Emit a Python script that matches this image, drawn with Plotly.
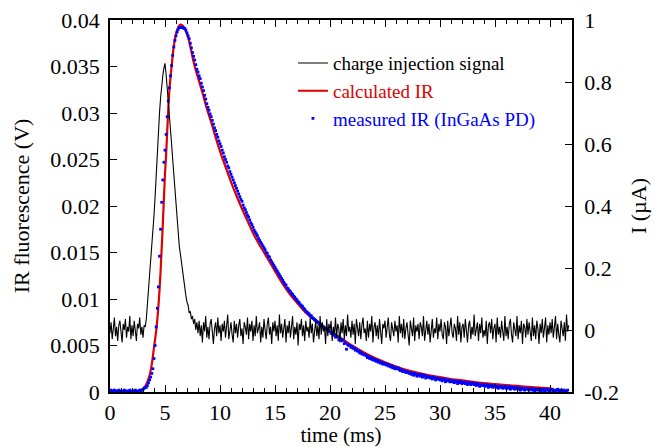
import numpy as np
import plotly.graph_objects as go

# ---------------- data ----------------
# charge injection signal (nA), sampled every 0.1 ms from t = 0
charge_dt = 0.1
charge_nA = [
    -10, 25, -30, 5, 40, -20, 10, -35, 15, 30, -15, -40, 20, 0, 35, -25, 10, -5, 45, -30,
    15, -20, 30, -10, -35, 20, 5, 40, -15, 10, -25, 15,
    10, 35, 80, 125, 175, 210, 265, 305, 370, 430, 505, 560, 635, 700, 750, 795, 820, 845,
    860, 825, 785, 735, 685, 640, 600, 550, 500, 445, 395, 350, 315, 270, 245, 215, 190,
    160, 130, 110, 90, 80, 55, 60, 35, 45, 20, 35, 0, 25, -10,
    30, -20, 15, -40, 25, -5, 45, -25, 10, -30, 20, 35, -15, -45, 5, 25, -20, 40, -10, 15,
    -35, 20, -5, 30, -25, 10, 50, -30, 0, 25, -15, -40, 30, -10, 20, -25, 15, 35, -20, 5,
    -45, 25, 10, -15, 40, -30, 20, -5, 30, -35, 15, -20, 45, -10, 5, 25, -40, 10, -25, 35,
    0, -30, 20, 40, -15, 10, -45, 25, -5, 30, -20, 15, -35, 50, -10, 20, -25, 5, 35, -40,
    15, -10, 30, -25, 5, 45, -30, 10, -15, 25, -50, 20, 0, 35, -20, 15, -35, 30, -5, 10,
    -25, 40, -10, 20, -40, 5, 30, -20, 15, -30, 45, -15, 25, -5, 10, -45, 35, -20, 20, 0,
    30, -35, 10, -15, 40, -25, 20, 5, -40, 25, -10, 35, -30, 15, -20, 50, -5, 10, -25, 30,
    -15, 20, -45, 35, 0, -20, 25, -30, 15, 40, -10, 5, -35, 30, -25, 20, -5, 45, -40, 10,
    25, -20, 15, -30, 35, -10, -45, 20, 5, 30, -25, 10, 40, -15, -35, 25, 0, -20, 30, -5,
    15, -40, 45, -10, 20, -25, 35, -30, 5, 25, -15, -50, 30, 10, -20, 40, -35, 15, -5, 20,
    -30, 25, 10, -20, 45, -35, 0, 30, -15, 20, -40, 15, 35, -25, 5, -10, 40, -30, 20, -5,
    35, -15, -30, 25, 10, -45, 30, -20, 15, 40, -10, -25, 20, 5, -35, 45, -15, 25, -40, 10,
    20, -25, 35, -5, -40, 15, 30, -30, 10, -15, 50, -20, 5, 25, -35, 20, -10, 40, -25, 0,
    -20, 30, -45, 15, 25, -10, 35, -30, 5, 20, -40, 40, -15, 10, -25, 30, -5, -35, 45, -20,
    10, -30, 20, 35, -15, -40, 25, 0, -20, 45, -30, 15, -10, 30, -45, 20, 10, -25, 35, -15,
    25, -5, -35, 40, -20, 15, -30, 30, 5, -45, 20, -10, 35, -25, 10, 40, -40, 15, -15, 25,
    -10, 35, -25, 5, 45, -30, 20, -15, -40, 30, 10, -20, 25, -35, 50, -5, 15,
]

# calculated IR (mV)
calc_t = [2.7, 2.8, 3.0, 3.2, 3.4, 3.6, 3.8, 4.0, 4.2, 4.4, 4.6, 4.8, 5.0, 5.1, 5.2, 5.3,
          5.4, 5.5, 5.6, 5.7, 5.8, 6.0, 6.2, 6.4, 6.6, 6.8, 7.0, 7.2, 7.4, 7.6, 7.8, 8.0,
          8.4, 8.8, 9.2, 9.6, 10.0, 10.5, 11.0, 11.5, 12.0, 12.5, 13.0, 13.5, 14.0, 14.5,
          15.0, 15.5, 16.0, 16.5, 17.0, 17.5, 18.0, 18.5, 19.0, 19.5, 20.0, 21, 22, 23, 24,
          25, 26, 27, 28, 29, 30, 31, 32, 33, 34, 35, 36, 37, 38, 39, 40]
calc_mV = [0.0, 0.1, 0.3, 0.6, 1.1, 1.8, 3.0, 4.8, 6.6, 9.2, 13.0, 18.0, 23.5, 25.5, 28.0,
           30.5, 32.5, 33.8, 35.0, 36.2, 37.2, 38.5, 39.2, 39.5, 39.4, 39.1, 38.5, 37.7,
           36.6, 35.5, 34.6, 33.8, 32.2, 30.5, 29.0, 27.4, 25.9, 24.2, 22.6, 21.1, 19.7,
           18.4, 17.1, 16.0, 15.0, 14.0, 13.0, 12.0, 11.1, 10.3, 9.6, 8.9, 8.3, 7.8, 7.3,
           6.9, 6.5, 5.8, 5.0, 4.3, 3.7, 3.2, 2.75, 2.35, 2.05, 1.8, 1.6, 1.4, 1.25, 1.1,
           0.95, 0.85, 0.75, 0.65, 0.55, 0.47, 0.4]

# measured IR, InGaAs PD (mV), sampled every 0.1 ms from t = 0
meas_dt = 0.1
meas_mV = [
    0.1, 0.2, 0.1, 0.0, 0.2, 0.1, 0.1, 0.0, 0.2, 0.1, 0.1, 0.0, 0.1, 0.2, 0.1,
    0.1, 0.0, 0.1, 0.2, 0.1, 0.0, 0.1, 0.1, 0.2, 0.0, 0.1, 0.1, 0.2, 0.1, 0.2,
    0.3, 0.4, 0.5, 0.5, 0.7, 1.0, 1.3, 1.6, 2.0, 2.5,
    3.6, 5.0, 7.0, 9.0, 11.3, 14.6, 17.5, 20.4, 22.8, 24.7,
    26.0, 27.7, 29.6, 31.3, 32.7, 34.0, 35.1, 36.2, 37.1, 37.8,
    38.3, 38.7, 39.0, 39.2, 39.2, 39.2, 39.2, 39.1, 39.1, 38.9,
    38.6, 38.3, 38.0, 37.5, 37.0, 36.5, 36.1, 35.7, 35.2, 34.7,
    34.4, 34.0, 33.7, 33.2, 32.8, 32.4, 31.9, 31.5, 31.0, 30.6,
    30.3, 29.9, 29.6, 29.2, 28.8, 28.4, 28.1, 27.7, 27.4, 27.0,
    26.7, 26.4, 26.0, 25.7, 25.3, 25.0, 24.7, 24.3, 24.1, 23.7, 23.4,
    23.1, 22.8, 22.5, 22.2, 21.9, 21.6, 21.3, 21.0, 20.7, 20.5,
    20.1, 19.8, 19.6, 19.3, 19.0, 18.8, 18.5, 18.2, 18.0, 17.7,
    17.4, 17.2, 17.0, 16.8, 16.5, 16.3, 16.1, 15.9, 15.7, 15.5,
    15.3, 15.0, 14.9, 14.6, 14.5, 14.2, 14.0, 13.8, 13.6, 13.4,
    13.2, 13.0, 12.8, 12.6, 12.4, 12.2, 12.0, 11.8, 11.6, 11.5,
    11.2, 11.1, 10.9, 10.8, 10.6, 10.5, 10.3, 10.2, 10.0, 9.9,
    9.7, 9.6, 9.4, 9.3, 9.2, 9.0, 8.9, 8.7, 8.6, 8.5,
    8.4, 8.2, 8.2, 8.0, 7.9, 7.8, 7.7, 7.6, 7.5, 7.4,
    7.3, 7.2, 7.1, 7.0, 6.9, 6.8, 6.8, 6.6, 6.6, 6.5,
    6.3, 6.4, 6.1, 6.2, 5.9, 6.0, 5.9, 5.6, 5.8, 5.6,
    5.5, 5.6, 5.2, 5.3, 4.6, 5.1, 5.0, 5.0, 4.8, 4.9,
    4.7, 4.7, 4.5, 4.6, 4.4, 4.4, 4.2, 4.3, 4.1, 4.1,
    4.0, 4.0, 3.9, 3.7, 3.8, 3.6, 3.7, 3.5, 3.6, 3.4,
    3.5, 3.3, 3.4, 3.2, 3.3, 3.1, 3.2, 3.0, 3.1, 3.0,
    2.9, 3.0, 2.8, 2.9, 2.7, 2.8, 2.6, 2.7, 2.5, 2.6,
    2.5, 2.6, 2.4, 2.3, 2.4, 2.2, 2.3, 2.2, 2.1, 2.2,
    2.1, 2.0, 2.1, 1.9, 2.0, 1.8, 2.0, 1.9, 1.7, 1.9,
    1.8, 1.7, 1.9, 1.6, 1.7, 1.8, 1.5, 1.7, 1.6, 1.6,
    1.5, 1.6, 1.4, 1.6, 1.5, 1.3, 1.5, 1.4, 1.4, 1.3,
    1.4, 1.2, 1.4, 1.3, 1.1, 1.3, 1.2, 1.3, 1.1, 1.2,
    1.1, 1.2, 1.0, 1.2, 1.1, 0.9, 1.1, 1.0, 1.1, 0.9,
    1.0, 1.1, 0.9, 1.0, 0.8, 1.0, 0.9, 0.8, 1.0, 0.9,
    0.8, 0.9, 0.7, 0.9, 0.8, 0.6, 0.8, 0.7, 0.8, 0.7,
    0.6, 0.8, 0.7, 0.5, 0.7, 0.6, 0.7, 0.5, 0.6, 0.7,
    0.5, 0.6, 0.4, 0.6, 0.5, 0.6, 0.4, 0.5, 0.6, 0.4,
    0.5, 0.4, 0.6, 0.3, 0.5, 0.4, 0.5, 0.3, 0.4, 0.5,
    0.3, 0.4, 0.2, 0.4, 0.3, 0.4, 0.2, 0.3, 0.4, 0.3,
    0.2, 0.3, 0.4, 0.2, 0.3, 0.1, 0.3, 0.2, 0.3, 0.2,
    0.3, 0.1, 0.2, 0.3, 0.1, 0.2, 0.3, 0.2, 0.1, 0.2,
    0.2, 0.3, 0.1, 0.2, 0.0, 0.2, 0.3, 0.1, 0.2, 0.1,
    0.2, 0.1, 0.2, 0.0, 0.1, 0.2,
]

x_ticks = [0, 5, 10, 15, 20, 25, 30, 35, 40]
left_ticks = [0, 0.005, 0.01, 0.015, 0.02, 0.025, 0.03, 0.035, 0.04]
right_ticks = [-0.2, 0, 0.2, 0.4, 0.6, 0.8, 1]
right_labels = ["-0.2", "0", "0.2", "0.4", "0.6", "0.8", "1"]

# ---------------- figure ----------------
charge_t = np.round(np.arange(len(charge_nA)) * charge_dt, 3)
meas_t = np.round(np.arange(len(meas_mV)) * meas_dt, 3)
charge_uA = np.array(charge_nA) / 1000.0
calc_V = np.array(calc_mV) / 1000.0
meas_V = np.array(meas_mV) / 1000.0

FONT = "Liberation Serif"
FS = 22

fig = go.Figure()
fig.add_trace(go.Scatter(
    x=charge_t, y=charge_uA, yaxis="y2", mode="lines",
    line=dict(color="black", width=1.1),
    name='<span style="color:black">charge injection signal</span>'))
fig.add_trace(go.Scatter(
    x=calc_t, y=calc_V, mode="lines", line_shape="spline",
    line=dict(color="#e00000", width=2.2),
    name='<span style="color:#e00000">calculated IR</span>'))
fig.add_trace(go.Scatter(
    x=meas_t, y=meas_V, mode="markers",
    marker=dict(color="#0000ff", size=2.8, symbol="square"),
    name='<span style="color:#0000ff">measured IR (InGaAs PD)</span>'))

axis_common = dict(showline=True, linecolor="black", linewidth=1.5,
                   ticks="inside", tickcolor="black", tickwidth=1.2,
                   showgrid=False, zeroline=False, automargin=False,
                   ticklabeloverflow="allow",
                   tickfont=dict(family=FONT, size=FS, color="black"))

# the page body adds an 8 px offset, so the figure is 8 px smaller than the window
fig.update_layout(
    width=654, height=439,
    margin=dict(l=102, r=90, t=12, b=55),
    paper_bgcolor="white", plot_bgcolor="white",
    font=dict(family=FONT, size=FS, color="black"),
    showlegend=True,
    legend=dict(x=0.396, y=0.935, xanchor="left", yanchor="top",
                bgcolor="rgba(0,0,0,0)", borderwidth=0,
                font=dict(family=FONT, size=19), tracegroupgap=0),
    xaxis=dict(range=[0, 42], tickvals=x_ticks, ticklen=7, mirror="ticks",
               minor=dict(dtick=1, ticklen=4, ticks="inside", tickcolor="black"),
               title=dict(text="time (ms)", font=dict(family=FONT, size=21), standoff=9),
               ticklabelstandoff=0,
               **axis_common),
    yaxis=dict(range=[0, 0.04], tickvals=left_ticks, ticklen=7,
               title=dict(text="IR fluorescence (V)", font=dict(family=FONT, size=FS), standoff=15),
               ticklabelstandoff=4,
               **axis_common),
    yaxis2=dict(range=[-0.2, 1], tickvals=right_ticks, ticktext=right_labels,
                overlaying="y", side="right", ticklen=7,
                title=dict(text="I (µA)", font=dict(family=FONT, size=FS), standoff=13),
                ticklabelstandoff=6,
                **axis_common),
)

fig.write_html("out.html")
